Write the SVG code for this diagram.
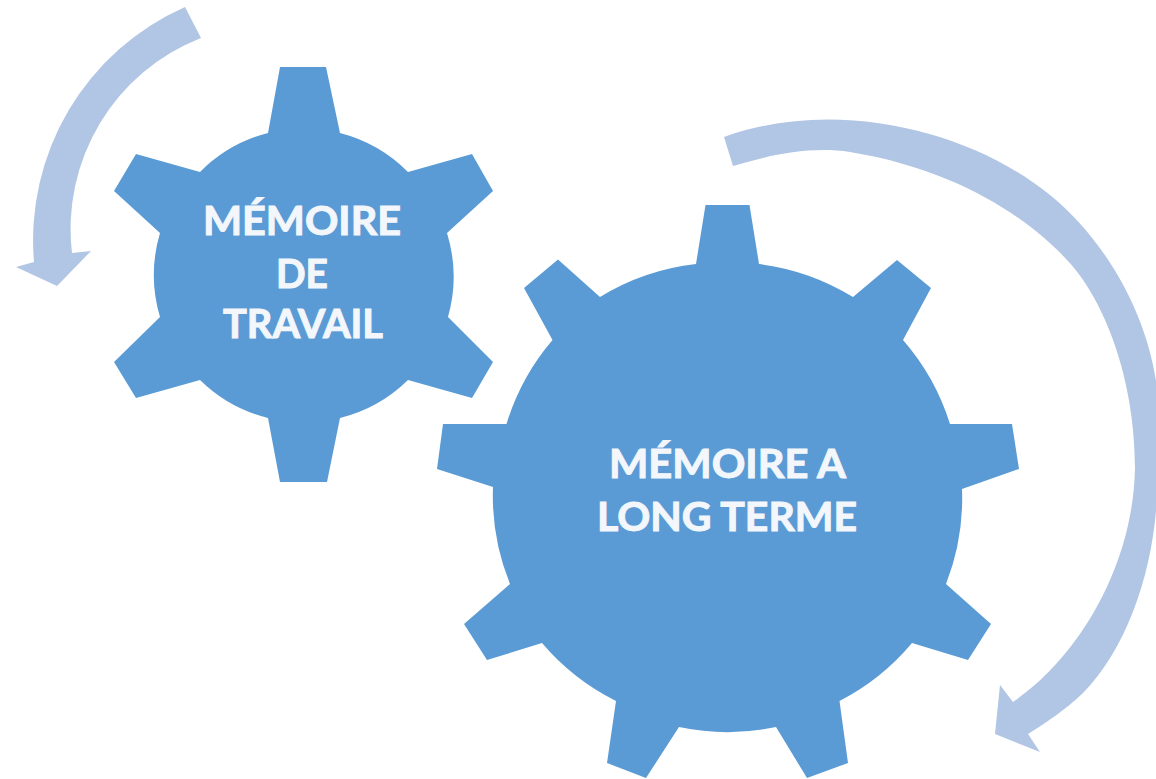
<svg xmlns="http://www.w3.org/2000/svg" width="1156" height="779" viewBox="0 0 1156 779">
<style>
.gear{fill:#5b9bd5}
.arrow{fill:#b1c5e4}
text{font-family:Lato,"Open Sans","Liberation Sans",sans-serif;font-weight:700;fill:#f3f7fb;stroke:#f3f7fb;stroke-width:1;text-anchor:middle;font-size:40px}
</style>
<rect width="1156" height="779" fill="#ffffff"/>
<g id="connectors">
<path class="arrow" d="M185 7 L201 38 A205 205 0 0 0 72 253 L91 251 L57 286 L16 267 L34 262 A255 255 0 0 1 185 7 Z"/>
<path class="arrow" d="M724 137 C835 97 970 130 1050 195 C1105 240 1145 310 1156 381 L1156 511 C1150 580 1125 650 1083 693 C1065 710 1047 722 1028 734 L1040 752 L995 734 L1000 685 L1013 702 C1075 660 1133 570 1135 468 C1135 380 1105 300 1067 260 C1030 220 960 170 850 152 C810 146 770 155 733 166 Z"/>
</g>
<g id="gear-memoire-de-travail">
<path class="gear" d="M280 67 L326 67 L340 133 A148 148 0 0 1 408 172 L472 154 L493 191 L447 233 A148 148 0 0 1 448 317 L493 362 L472 398 L408 380 A148 148 0 0 1 340 418 L327 482 L280 482 L268 418 A148 148 0 0 1 200 380 L136 398 L114 362 L160 317 A148 148 0 0 1 160 233 L114 191 L136 154 L200 172 A148 148 0 0 1 268 133 Z"/>
<text x="302" y="235" textLength="198" lengthAdjust="spacingAndGlyphs">MÉMOIRE</text>
<text x="302" y="288" textLength="52" lengthAdjust="spacingAndGlyphs">DE</text>
<text x="303" y="338" textLength="160" lengthAdjust="spacingAndGlyphs">TRAVAIL</text>
</g>
<g id="gear-memoire-a-long-terme">
<path class="gear" d="M705.5 205 L749.5 205 L759 264 A234 234 0 0 1 853 297 L897 260 L931 288 L903 340 A234 234 0 0 1 950 424 L1012 424 L1019 469 L962 489 A234 234 0 0 1 946 584 L991 624 L968 660 L912 643 A234 234 0 0 1 839.5 701 L848 763 L807 778 L776 727 A234 234 0 0 1 679 727 L646 778 L607 763 L616 701 A234 234 0 0 1 542 643 L487 660 L464 624 L510 584 A234 234 0 0 1 493 487 L437 469 L443 424 L506.5 424 A234 234 0 0 1 552.5 340 L524 288 L558 259.5 L600 297 A234 234 0 0 1 696 264 Z"/>
<text x="727.5" y="478" textLength="237" lengthAdjust="spacingAndGlyphs">MÉMOIRE A</text>
<text x="727" y="531" textLength="260" lengthAdjust="spacingAndGlyphs">LONG TERME</text>
</g>
</svg>
